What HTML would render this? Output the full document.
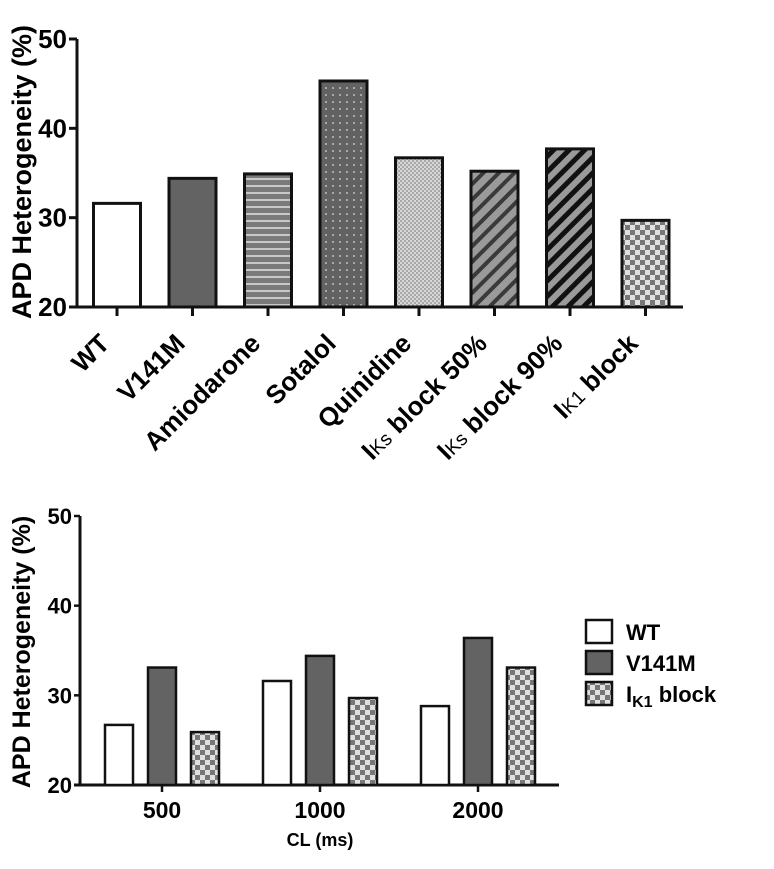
<!DOCTYPE html>
<html><head><meta charset="utf-8"><style>
html,body{margin:0;padding:0;background:#fff;}
svg{display:block;font-family:"Liberation Sans",Arial,sans-serif;font-weight:bold;}
</style></head><body>
<svg id="c" width="774" height="869" viewBox="0 0 774 869">
<defs>
<pattern id="pStripes" width="8" height="7" patternUnits="userSpaceOnUse"><rect width="8" height="7" fill="#7a7a7a"/><rect y="3" width="8" height="2" fill="#c8c8c8"/></pattern>
<pattern id="pDots" width="7" height="7" patternUnits="userSpaceOnUse"><rect width="7" height="7" fill="#626262"/><rect x="3" y="3" width="2" height="2" fill="#a8a8a8"/></pattern>
<pattern id="pFine" width="4" height="4" patternUnits="userSpaceOnUse"><rect width="4" height="4" fill="#d8d8d8"/><rect width="2" height="2" fill="#a8a8a8"/><rect x="2" y="2" width="2" height="2" fill="#a8a8a8"/></pattern>
<pattern id="pDiag1" width="11" height="11" patternUnits="userSpaceOnUse" patternTransform="rotate(45)"><rect width="11" height="11" fill="#9a9a9a"/><rect width="4" height="11" fill="#3a3a3a"/></pattern>
<pattern id="pDiag2" width="11" height="11" patternUnits="userSpaceOnUse" patternTransform="rotate(45)"><rect width="11" height="11" fill="#9a9a9a"/><rect width="5" height="11" fill="#111"/></pattern>
<pattern id="pCheck" width="10" height="10" patternUnits="userSpaceOnUse"><rect width="10" height="10" fill="#e0e0e0"/><rect width="5" height="5" fill="#777"/><rect x="5" y="5" width="5" height="5" fill="#777"/></pattern>
</defs>
<g id="top"></g>
<g id="bot"></g>
</svg>
<script>
var topCategories=["WT","V141M","Amiodarone","Sotalol","Quinidine","IKs block 50%","IKs block 90%","IK1 block"];
var topValues=[31.6,34.4,34.9,45.3,36.7,35.2,37.7,29.7];
var topFills=["#fff","#636363","url(#pStripes)","url(#pDots)","url(#pFine)","url(#pDiag1)","url(#pDiag2)","url(#pCheck)"];
var yTicks=[20,30,40,50];
var botCategories=["500","1000","2000"];
var seriesNames=["WT","V141M","IK1 block"];
var seriesWT=[26.7,31.6,28.8];
var seriesV141M=[33.1,34.4,36.4];
var seriesIK1=[25.9,29.7,33.1];
var seriesFills=["#fff","#636363","url(#pCheck)"];

var NS="http://www.w3.org/2000/svg";
function mk(tag,attrs,parent){var e=document.createElementNS(NS,tag);for(var k in attrs)e.setAttribute(k,attrs[k]);parent.appendChild(e);return e;}
function txt(parent,x,y,s,size,anchor,rot){var t=mk("text",{x:x,y:y,"font-size":size,"text-anchor":anchor||"middle"},parent);if(rot)t.setAttribute("transform","rotate("+rot+" "+x+" "+y+")");t.textContent=s;return t;}
function labelRich(t,s){
  var m=s.match(/^I(Ks|K1)(.*)$/);
  if(!m){t.textContent=s;return;}
  var a=document.createElementNS(NS,"tspan");a.textContent="I";t.appendChild(a);
  var b=document.createElementNS(NS,"tspan");b.textContent=m[1];b.setAttribute("font-size","0.75em");b.setAttribute("font-weight","normal");t.appendChild(b);
  var c=document.createElementNS(NS,"tspan");c.textContent=m[2];t.appendChild(c);
}

// TOP CHART
var T=document.getElementById("top");
var tx0=77,tx1=683,ty0=307,ty1=39;
function tY(v){return ty0+(v-20)/(50-20)*(ty1-ty0);}
var tStep=75.5,tFirst=117,tBW=47;
function tX(i){return tFirst+i*tStep;}
var yl=mk("line",{x1:tx0,y1:ty1,x2:tx0,y2:ty0,stroke:"#111","stroke-width":3},T);


var xl=mk("line",{x1:tx0-8,y1:ty0,x2:tx1,y2:ty0,stroke:"#111","stroke-width":3},T);


yTicks.forEach(function(v){
  mk("line",{x1:tx0-8,y1:tY(v),x2:tx0,y2:tY(v),stroke:"#111","stroke-width":3},T);
  var t=txt(T,tx0-10,tY(v)+9,String(v),26,"end");
  
  
});
var yt=txt(T,31,172,"APD Heterogeneity (%)",27,"middle",-90);


topCategories.forEach(function(c,i){
  var cx=tX(i),y=tY(topValues[i]);
  var r=mk("rect",{x:cx-tBW/2,y:y,width:tBW,height:ty0-y,fill:topFills[i],stroke:"#111","stroke-width":3},T);
  
  
  mk("line",{x1:cx,y1:ty0,x2:cx,y2:ty0+9,stroke:"#111","stroke-width":3},T);
  var t=mk("text",{x:cx-6,y:345,"font-size":26,"text-anchor":"end",transform:"rotate(-45 "+(cx-6)+" 345)"},T);
  labelRich(t,c);
  
  
});

// BOTTOM CHART
var B=document.getElementById("bot");
var bx0=80,bx1=559,by0=785,by1=516;
function bY(v){return by0+(v-20)/(50-20)*(by1-by0);}
var gFirst=162,gStep=158,bBW=28,bOff=43;
function bX(g,s){return gFirst+g*gStep+(s-1)*bOff;}
var byl=mk("line",{x1:bx0,y1:by1,x2:bx0,y2:by0,stroke:"#111","stroke-width":3},B);


var bxl=mk("line",{x1:bx0-6,y1:by0,x2:bx1,y2:by0,stroke:"#111","stroke-width":3},B);


yTicks.forEach(function(v){
  mk("line",{x1:bx0-6,y1:bY(v),x2:bx0,y2:bY(v),stroke:"#111","stroke-width":2.5},B);
  var t=txt(B,bx0-8,bY(v)+8,String(v),22,"end");
  
  
});
var byt=txt(B,30,652,"APD Heterogeneity (%)",25,"middle",-90);


var series=[seriesWT,seriesV141M,seriesIK1];
botCategories.forEach(function(c,g){
  var cx=gFirst+g*gStep;
  mk("line",{x1:cx,y1:by0,x2:cx,y2:by0+7,stroke:"#111","stroke-width":2.5},B);
  var t=txt(B,cx,818,c,23,"middle");
  
  
  series.forEach(function(s,k){
    var x=bX(g,k),y=bY(s[g]);
    var r=mk("rect",{x:x-bBW/2,y:y,width:bBW,height:by0-y,fill:seriesFills[k],stroke:"#111","stroke-width":2.5},B);
    
    
  });
});
var xt=txt(B,320,846,"CL (ms)",18,"middle");


seriesNames.forEach(function(n,k){
  var y=620+k*31;
  var r=mk("rect",{x:586,y:y,width:26,height:23,fill:seriesFills[k],stroke:"#111","stroke-width":2.5},B);
  
  
  var t=mk("text",{x:626,y:y+20,"font-size":22,"text-anchor":"start"},B);
  if(n==="IK1 block"){
    var a=document.createElementNS(NS,"tspan");a.textContent="I";t.appendChild(a);
    var b=document.createElementNS(NS,"tspan");b.textContent="K1";b.setAttribute("font-size","16");b.setAttribute("dy","5");t.appendChild(b);
    var c2=document.createElementNS(NS,"tspan");c2.textContent=" block";c2.setAttribute("dy","-5");t.appendChild(c2);
  } else t.textContent=n;
  
  
});
</script>
</body></html>
